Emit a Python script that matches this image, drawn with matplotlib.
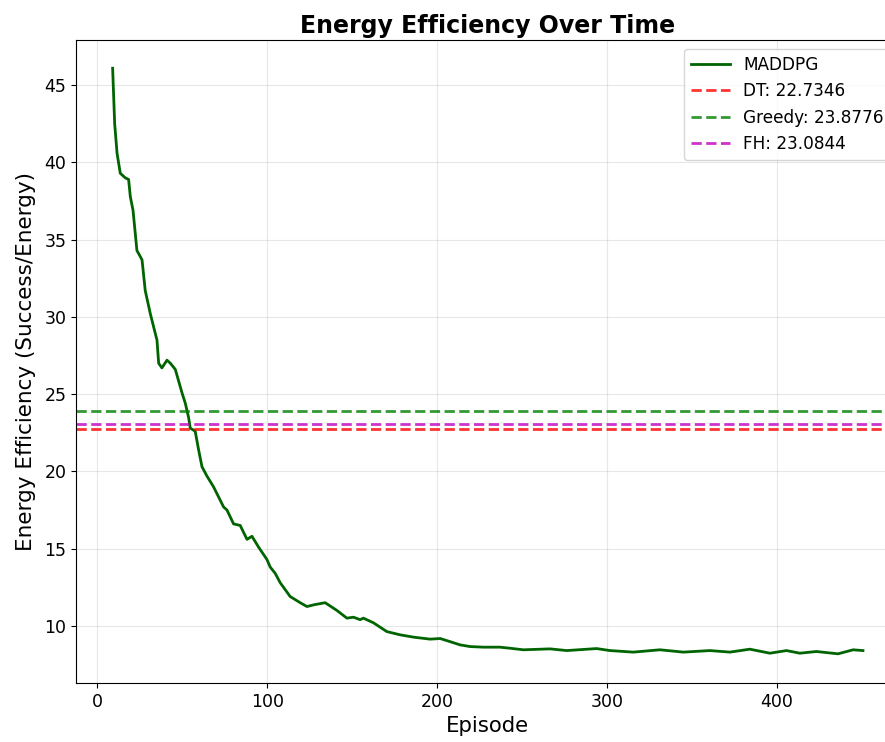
import matplotlib.pyplot as plt

# MADDPG energy efficiency
episodes = [9, 10.2, 11.6, 13.5, 16.5, 18.4, 19.4, 21, 23.3, 26.3, 28.2, 31.2, 35.1,
            36.1, 38, 41, 43, 45.9, 49.8, 51.8, 53.7, 54.7, 57.6, 59.6, 61.6, 64.5,
            68.4, 74.3, 76.3, 80.2, 84.1, 88.1, 91, 94.9, 99.8, 101.8, 104.7, 107.6,
            113.5, 119.4, 123.4, 127.3, 134.1, 141, 146.9, 150.8, 154.7, 156.6, 162.5,
            170.4, 178.2, 186.1, 195.9, 201.8, 207.6, 213.5, 219.4, 227.3, 237, 243,
            250.8, 266.5, 276.3, 293.9, 301.8, 315.5, 331.2, 344.9, 360.6, 372.4,
            384.1, 395.9, 405.7, 413.5, 423.3, 436, 444.9, 450.7]
efficiency = [46.1, 42.5, 40.6, 39.3, 39.0, 38.9, 37.8, 36.9, 34.3, 33.7, 31.7, 30.2, 28.5,
              27.0, 26.7, 27.2, 27.0, 26.6, 25.1, 24.4, 23.5, 22.8, 22.6, 21.4, 20.3, 19.7,
              19.0, 17.7, 17.5, 16.6, 16.5, 15.6, 15.8, 15.1, 14.3, 13.8, 13.4, 12.8,
              11.9, 11.5, 11.25, 11.36, 11.5, 11.0, 10.5, 10.56, 10.4, 10.5, 10.2,
              9.63, 9.42, 9.27, 9.14, 9.18, 8.98, 8.77, 8.66, 8.62, 8.62, 8.55,
              8.45, 8.51, 8.40, 8.53, 8.40, 8.30, 8.45, 8.30, 8.40, 8.30,
              8.49, 8.23, 8.40, 8.23, 8.34, 8.19, 8.45, 8.40]

baseline_names = ["DT", "Greedy", "FH"]
baseline_values = [22.7346, 23.8776, 23.0844]
baseline_colors = ["r", "g", "m"]

fig = plt.figure(figsize=(8.85, 7.42), dpi=100)
# right spine sits just past the edge of the image, as in the reference
ax = fig.add_axes([0.086, 0.0795, 0.93, 0.866])

ax.plot(episodes, efficiency, color="darkgreen", linewidth=2, label="MADDPG")
for name, val, col in zip(baseline_names, baseline_values, baseline_colors):
    ax.axhline(val, color=col, linestyle="--", linewidth=2, alpha=0.8,
               label=f"{name}: {val:.4f}")

ax.set_xlim(-12.5, 472)
ax.set_ylim(6.3, 47.9)
ax.set_title("Energy Efficiency Over Time", fontsize=17, fontweight="bold", pad=5)
ax.set_xlabel("Episode", fontsize=15.3)
ax.set_ylabel("Energy Efficiency (Success/Energy)", fontsize=15.5, labelpad=6)
ax.tick_params(labelsize=12.5)
ax.grid(True, alpha=0.3)
ax.legend(loc="upper right", fontsize=12.2, handlelength=2.3)

plt.savefig("out.png", dpi=100)
